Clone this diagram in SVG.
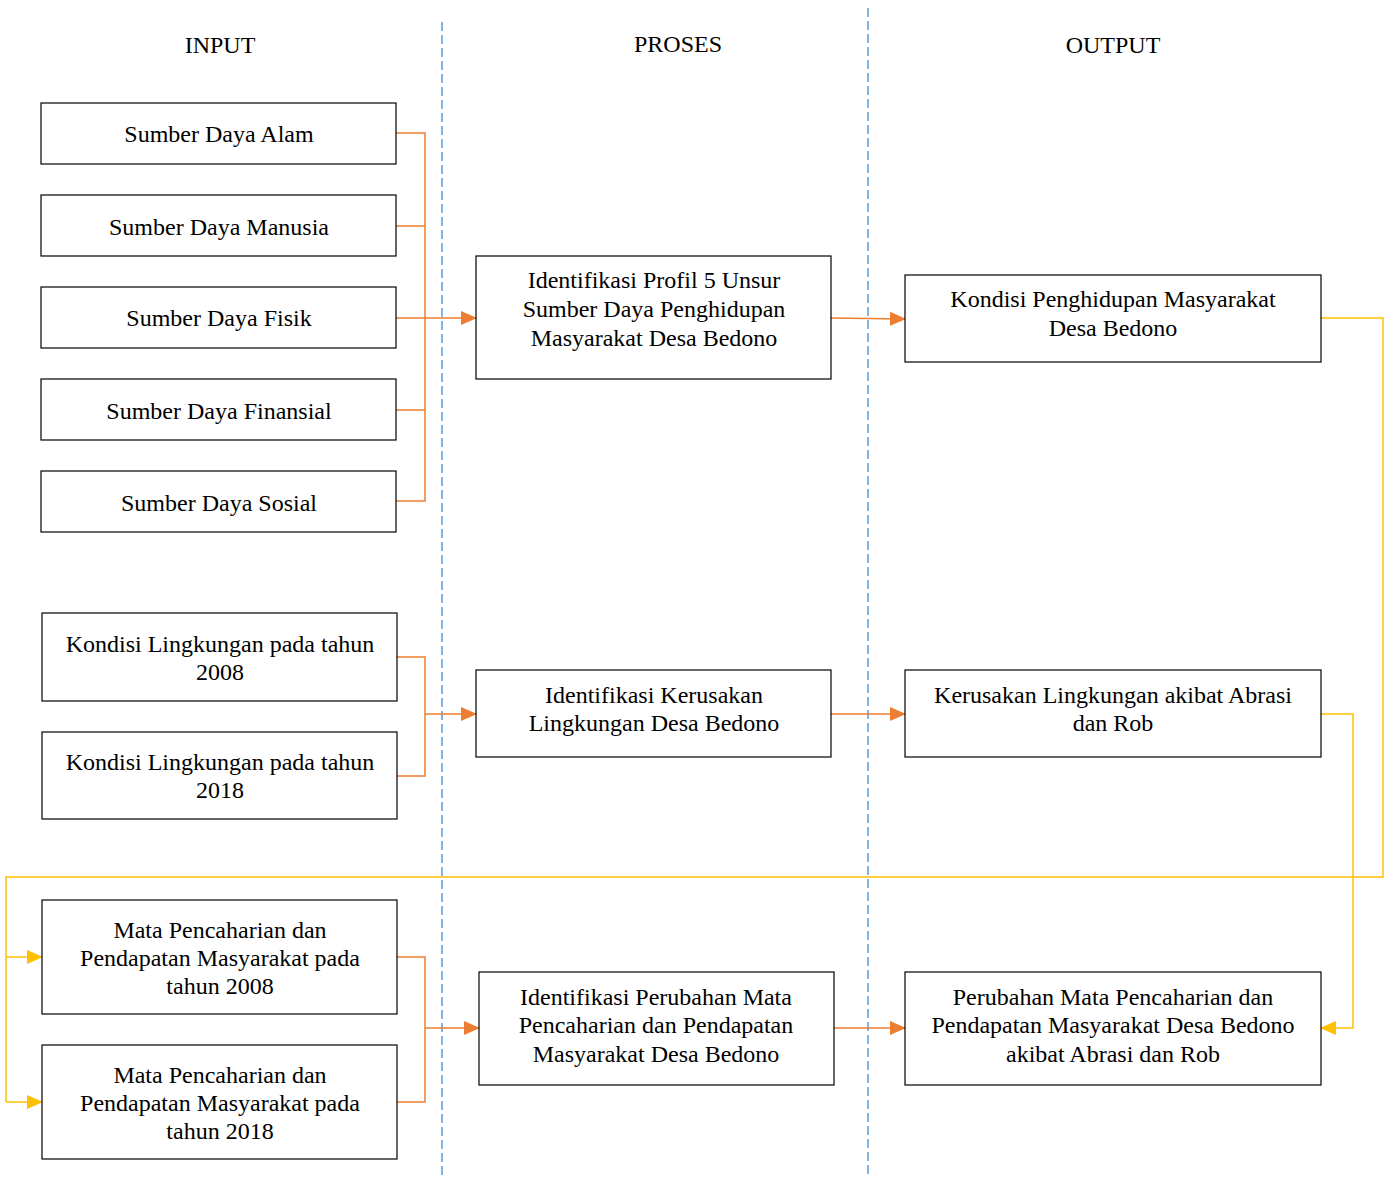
<svg xmlns="http://www.w3.org/2000/svg" width="1391" height="1180" viewBox="0 0 1391 1180">
<defs>
<marker id="ao" markerWidth="16" markerHeight="16" refX="15" refY="8" orient="auto" markerUnits="userSpaceOnUse" viewBox="0 0 16 16"><path d="M0,1 L16,8 L0,15 Z" fill="#ED7D31"/></marker>
<marker id="ay" markerWidth="16" markerHeight="16" refX="15" refY="8" orient="auto" markerUnits="userSpaceOnUse" viewBox="0 0 16 16"><path d="M0,1 L16,8 L0,15 Z" fill="#FFC000"/></marker>
</defs>
<style>
text{font-family:"Liberation Serif","Times New Roman",serif;font-size:24px;fill:#000;text-anchor:middle}
.box{fill:#fff;stroke:#000;stroke-width:1.2}
.o{fill:none;stroke:#ED7D31;stroke-width:1.5}
.y{fill:none;stroke:#FFC000;stroke-width:1.5}
.d{fill:none;stroke:#5B9BD5;stroke-width:1.5;stroke-dasharray:9 4}
</style>
<rect width="1391" height="1180" fill="#fff"/>
<g id="dividers">
<line class="d" x1="442" y1="22" x2="442" y2="1177"/>
<line class="d" x1="868" y1="8" x2="868" y2="1177"/>
</g>
<g id="headers">
<text x="220" y="53">INPUT</text>
<text x="678" y="52">PROSES</text>
<text x="1113" y="53">OUTPUT</text>
</g>
<g id="connectors">
<path class="o" d="M396,133 H425 V501 H396 M396,226 H425 M396,410 H425"/>
<path class="o" d="M396,318 H476" marker-end="url(#ao)"/>
<path class="o" d="M831,318 L905,319" marker-end="url(#ao)"/>
<path class="o" d="M397,657 H425 V776 H397"/>
<path class="o" d="M425,714 H476" marker-end="url(#ao)"/>
<path class="o" d="M831,714 H905" marker-end="url(#ao)"/>
<path class="o" d="M397,957 H425 V1102 H397"/>
<path class="o" d="M425,1028 H479" marker-end="url(#ao)"/>
<path class="o" d="M834,1028 H905" marker-end="url(#ao)"/>
<path class="y" d="M1321,318 H1383 V877 H6 V1102"/>
<path class="y" d="M6,957 H42" marker-end="url(#ay)"/>
<path class="y" d="M6,1102 H42" marker-end="url(#ay)"/>
<path class="y" d="M1321,714 H1353 V1028 H1321" marker-end="url(#ay)"/>
</g>
<g id="n-sda"><rect class="box" x="41" y="103" width="355" height="61"/><text x="219" y="142">Sumber Daya Alam</text></g>
<g id="n-sdm"><rect class="box" x="41" y="195" width="355" height="61"/><text x="219" y="235">Sumber Daya Manusia</text></g>
<g id="n-sdf"><rect class="box" x="41" y="287" width="355" height="61"/><text x="219" y="326">Sumber Daya Fisik</text></g>
<g id="n-sdfin"><rect class="box" x="41" y="379" width="355" height="61"/><text x="219" y="419">Sumber Daya Finansial</text></g>
<g id="n-sds"><rect class="box" x="41" y="471" width="355" height="61"/><text x="219" y="511">Sumber Daya Sosial</text></g>
<g id="n-p1"><rect class="box" x="476" y="256" width="355" height="123"/><text x="654" y="288">Identifikasi Profil 5 Unsur</text><text x="654" y="317">Sumber Daya Penghidupan</text><text x="654" y="346">Masyarakat Desa Bedono</text></g>
<g id="n-o1"><rect class="box" x="905" y="275" width="416" height="87"/><text x="1113" y="307">Kondisi Penghidupan Masyarakat</text><text x="1113" y="336">Desa Bedono</text></g>
<g id="n-kl2008"><rect class="box" x="42" y="613" width="355" height="88"/><text x="220" y="652">Kondisi Lingkungan pada tahun</text><text x="220" y="680">2008</text></g>
<g id="n-kl2018"><rect class="box" x="42" y="732" width="355" height="87"/><text x="220" y="770">Kondisi Lingkungan pada tahun</text><text x="220" y="798">2018</text></g>
<g id="n-p2"><rect class="box" x="476" y="670" width="355" height="87"/><text x="654" y="703">Identifikasi Kerusakan</text><text x="654" y="731">Lingkungan Desa Bedono</text></g>
<g id="n-o2"><rect class="box" x="905" y="670" width="416" height="87"/><text x="1113" y="703">Kerusakan Lingkungan akibat Abrasi</text><text x="1113" y="731">dan Rob</text></g>
<g id="n-mp2008"><rect class="box" x="42" y="900" width="355" height="114"/><text x="220" y="938">Mata Pencaharian dan</text><text x="220" y="966">Pendapatan Masyarakat pada</text><text x="220" y="994">tahun 2008</text></g>
<g id="n-mp2018"><rect class="box" x="42" y="1045" width="355" height="114"/><text x="220" y="1083">Mata Pencaharian dan</text><text x="220" y="1111">Pendapatan Masyarakat pada</text><text x="220" y="1139">tahun 2018</text></g>
<g id="n-p3"><rect class="box" x="479" y="972" width="355" height="113"/><text x="656" y="1005">Identifikasi Perubahan Mata</text><text x="656" y="1033">Pencaharian dan Pendapatan</text><text x="656" y="1062">Masyarakat Desa Bedono</text></g>
<g id="n-o3"><rect class="box" x="905" y="972" width="416" height="113"/><text x="1113" y="1005">Perubahan Mata Pencaharian dan</text><text x="1113" y="1033">Pendapatan Masyarakat Desa Bedono</text><text x="1113" y="1062">akibat Abrasi dan Rob</text></g>
</svg>
